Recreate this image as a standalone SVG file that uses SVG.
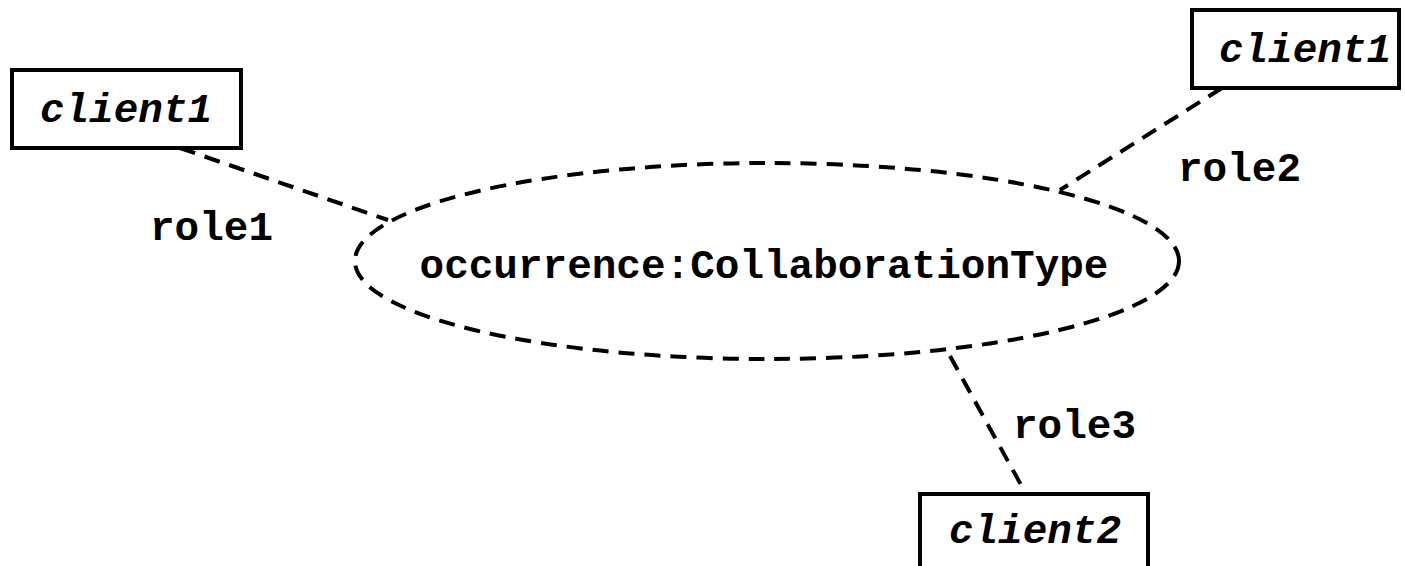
<svg xmlns="http://www.w3.org/2000/svg" width="1405" height="566" viewBox="0 0 1405 566">
<style>
.box{fill:#fff;stroke:#000;stroke-width:4}
.dash{fill:none;stroke:#000;stroke-width:4;stroke-dasharray:16,10}
.t{font-family:"Liberation Mono","Courier New",monospace;font-weight:bold;font-size:41px;fill:#000}
.i{font-style:italic}
</style>
<rect width="1405" height="566" fill="#fff"/>
<g id="connectors">
<line class="dash" x1="180" y1="148" x2="388" y2="220"/>
<line class="dash" x1="1222" y1="88" x2="1060" y2="190"/>
<line class="dash" x1="950" y1="356" x2="1026" y2="494"/>
</g>
<g id="occurrence">
<ellipse class="dash" cx="767" cy="261" rx="412" ry="98"/>
<text class="t" x="764" y="278" text-anchor="middle">occurrence:CollaborationType</text>
</g>
<g id="client1a">
<rect class="box" x="12" y="70" width="229" height="78"/>
<text class="t i" x="126" y="122" text-anchor="middle">client1</text>
</g>
<g id="client1b">
<rect class="box" x="1192" y="10" width="207" height="78"/>
<text class="t i" x="1305" y="62" text-anchor="middle">client1</text>
</g>
<g id="client2">
<rect class="box" x="920" y="494" width="228" height="80"/>
<text class="t i" x="1035" y="543" text-anchor="middle">client2</text>
</g>
<g id="labels">
<text class="t" x="150" y="240">role1</text>
<text class="t" x="1178" y="181">role2</text>
<text class="t" x="1013" y="438">role3</text>
</g>
</svg>
